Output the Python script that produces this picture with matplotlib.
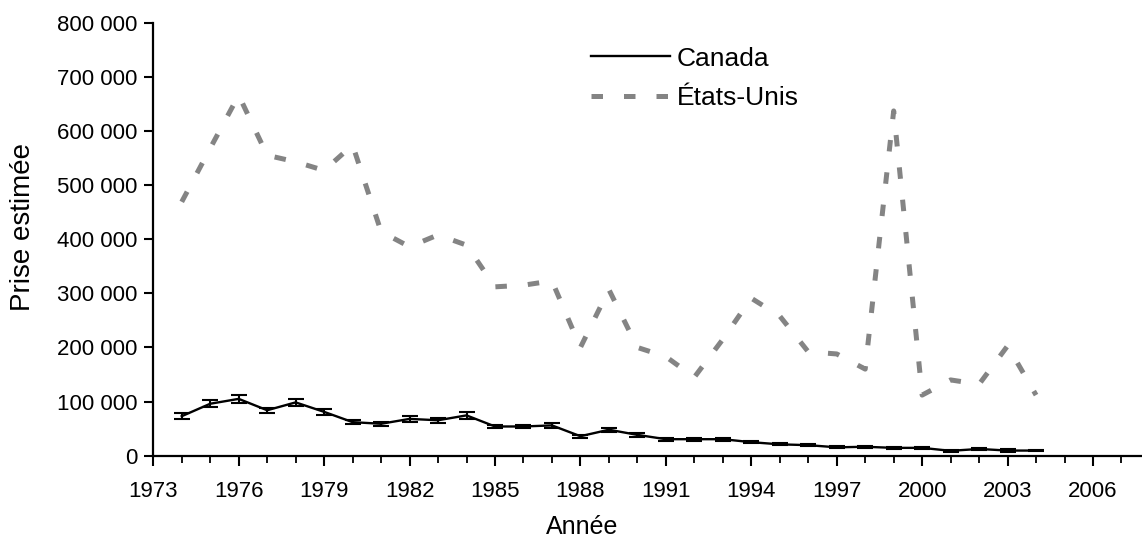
"""Prise estimée par année : Canada (avec barres d'erreur) et États-Unis."""

import matplotlib
matplotlib.use("Agg")
import matplotlib.pyplot as plt
from matplotlib.ticker import FuncFormatter, MultipleLocator

# ----------------------------------------------------------------- données --
annees = [1974, 1975, 1976, 1977, 1978, 1979, 1980, 1981, 1982, 1983, 1984,
          1985, 1986, 1987, 1988, 1989, 1990, 1991, 1992, 1993, 1994, 1995,
          1996, 1997, 1998, 1999, 2000, 2001, 2002, 2003, 2004]

canada = [73000, 96000, 105000, 84000, 98500, 81000, 62000, 59000, 68000,
          65500, 74500, 54000, 54000, 56000, 36000, 48000, 38500, 30500,
          30500, 30500, 25000, 21000, 19500, 15500, 16500, 14500, 14500,
          9000, 12500, 9500, 9500]

canada_err = [5000, 6000, 8000, 5000, 7000, 6000, 4000, 4000, 5000, 5000,
              6000, 3500, 3500, 4000, 3000, 4000, 3500, 2500, 2500, 2500,
              2000, 2000, 2000, 2000, 2000, 2000, 2000, 2000, 2000, 2000, 1000]

etats_unis = [469000, 568000, 666000, 555000, 543000, 527000, 574000, 414000,
              386000, 408000, 389000, 312000, 315000, 323000, 200000, 307000,
              200000, 183000, 145000, 215000, 291000, 258000, 192000, 188000,
              160000, 637000, 112000, 140000, 132000, 203000, 112000]

series = ["Canada", "États-Unis"]
annees_etiquetees = [1973, 1976, 1979, 1982, 1985, 1988, 1991, 1994, 1997,
                     2000, 2003, 2006]

plt.rcParams["font.family"] = ["Liberation Sans", "DejaVu Sans"]

# ------------------------------------------------------------------ figure --
fig = plt.figure(figsize=(11.42, 5.44), dpi=100)
ax = fig.add_axes([0.1342, 0.1623, 0.8658, 0.796])

# Canada : barres d'erreur + ligne continue
ax.errorbar(annees, canada, yerr=canada_err, fmt="none", ecolor="black",
            elinewidth=1.5, capsize=6, capthick=1.5, zorder=3)
ax.plot(annees, canada, color="black", lw=1.7, label=series[0], zorder=4)
# États-Unis : tirets gris épais
ax.plot(annees, etats_unis, color="#848484", lw=3.6, dashes=(2.3, 4.2),
        dash_capstyle="butt", label=series[1], zorder=2)

ax.set_xlim(1973, 2007.72)
ax.set_ylim(0, 800000)

ax.set_xticks(annees_etiquetees)
ax.xaxis.set_minor_locator(MultipleLocator(1))
ax.yaxis.set_major_locator(MultipleLocator(100000))
ax.yaxis.set_major_formatter(
    FuncFormatter(lambda v, _: f"{int(v):,}".replace(",", " ")))

for cote in ("top", "right"):
    ax.spines[cote].set_visible(False)
for cote in ("left", "bottom"):
    ax.spines[cote].set_linewidth(1.6)

ax.tick_params(axis="y", which="major", length=6.5, width=1.5, pad=5,
               labelsize=16)
ax.tick_params(axis="x", which="major", length=7, width=1.5, pad=11,
               labelsize=16)
ax.tick_params(axis="x", which="minor", length=5, width=1.3)

ax.set_xlabel("Année", fontsize=18)
ax.set_ylabel("Prise estimée", fontsize=20)
ax.xaxis.set_label_coords(0.434, -0.137)
ax.yaxis.set_label_coords(-0.119, 0.528)

ax.legend(loc="upper left", bbox_to_anchor=(0.443, 0.945),
          frameon=False, handlelength=3.0, handletextpad=0.25,
          labelspacing=0.6, borderpad=0, borderaxespad=0,
          prop={"size": 19})

fig.savefig("out.png", dpi=100)
